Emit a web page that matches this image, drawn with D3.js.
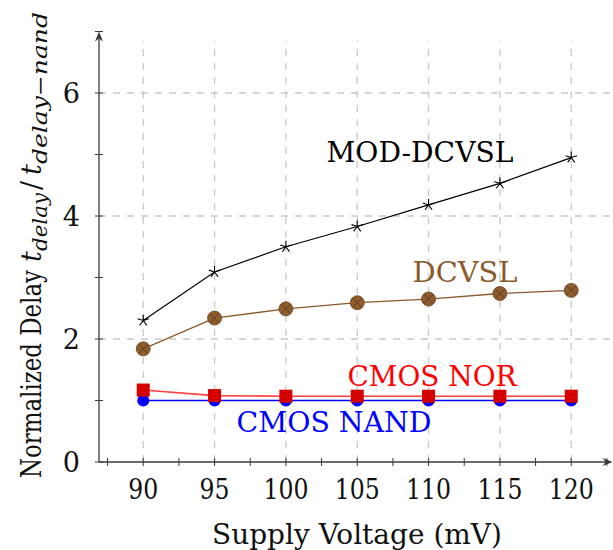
<!DOCTYPE html>
<html>
<head>
<meta charset="utf-8">
<script src="https://cdn.jsdelivr.net/npm/d3@7"></script>
</head>
<body style="margin:0;padding:0;background:#fff">
<svg id="chart" width="613" height="550"></svg>
<script>
// Supply voltages (mV) and normalized delay for each logic style
const voltages = [90, 95, 100, 105, 110, 115, 120];
const modDcvsl = [2.30, 3.09, 3.50, 3.83, 4.18, 4.53, 4.95];
const dcvsl    = [1.84, 2.34, 2.49, 2.59, 2.65, 2.74, 2.79];
const cmosNor  = [1.17, 1.08, 1.07, 1.07, 1.07, 1.07, 1.07];
const cmosNand = [1.00, 1.00, 1.00, 1.00, 1.00, 1.00, 1.00];

const xTicks = [90, 95, 100, 105, 110, 115, 120];
const xMinorTicks = [87.5, 92.5, 97.5, 102.5, 107.5, 112.5, 117.5, 122.5];
const yTicks = [0, 2, 4, 6];
const yMinorTicks = [1, 3, 5, 7];

const serif = "DejaVu Serif";
const svg = d3.select("#chart");

const x = d3.scaleLinear().domain([86.9, 122.9]).range([99, 612.6]);
const y = d3.scaleLinear().domain([0, 7]).range([462, 31.5]);

const axisColor = "#3a3a3a";
const fontSize = 27;

// dashed grid
const grid = svg.append("g");
grid.selectAll("line.vx").data(xTicks).join("line")
  .attr("x1", d => x(d)).attr("x2", d => x(d))
  .attr("y1", y(0)).attr("y2", y(6.85))
  .attr("stroke", "#c8c8c8").attr("stroke-width", 1.3)
  .attr("stroke-dasharray", "7,7");
grid.selectAll("line.hy").data(yTicks.filter(d => d > 0)).join("line")
  .attr("x1", x(86.9)).attr("x2", x(122.7))
  .attr("y1", d => y(d)).attr("y2", d => y(d))
  .attr("stroke", "#c8c8c8").attr("stroke-width", 1.3)
  .attr("stroke-dasharray", "7,7");

// axis lines
svg.append("line")
  .attr("x1", x(86.9)).attr("x2", x(122.9) - 4)
  .attr("y1", y(0)).attr("y2", y(0))
  .attr("stroke", axisColor).attr("stroke-width", 1.3);
svg.append("line")
  .attr("x1", x(86.9)).attr("x2", x(86.9))
  .attr("y1", y(0)).attr("y2", y(7) + 4)
  .attr("stroke", axisColor).attr("stroke-width", 1.3);

// arrow heads
const ax0 = x(122.9), ay0 = y(0);
svg.append("path")
  .attr("d", `M${ax0},${ay0} L${ax0 - 10},${ay0 - 4} L${ax0 - 7},${ay0} L${ax0 - 10},${ay0 + 4} Z`)
  .attr("fill", axisColor);
const bx0 = x(86.9), by0 = y(7);
svg.append("path")
  .attr("d", `M${bx0},${by0} L${bx0 - 4},${by0 + 10} L${bx0},${by0 + 7} L${bx0 + 4},${by0 + 10} Z`)
  .attr("fill", axisColor);

// ticks crossing the axes
svg.append("g").selectAll("line").data(xTicks.concat(xMinorTicks)).join("line")
  .attr("x1", d => x(d)).attr("x2", d => x(d))
  .attr("y1", y(0) - 4).attr("y2", y(0) + 4)
  .attr("stroke", axisColor).attr("stroke-width", 1);
svg.append("g").selectAll("line").data(yTicks.concat(yMinorTicks)).join("line")
  .attr("x1", x(86.9) - 4).attr("x2", x(86.9) + 4)
  .attr("y1", d => y(d)).attr("y2", d => y(d))
  .attr("stroke", axisColor).attr("stroke-width", 1);

// tick labels
svg.append("g").selectAll("text").data(xTicks).join("text")
  .attr("x", d => x(d) - String(d).length * 7.5).attr("y", 499)
  .attr("font-family", serif)
  .attr("font-size", fontSize).attr("fill", "#111")
  .attr("textLength", d => String(d).length * 15).attr("lengthAdjust", "spacingAndGlyphs")
  .text(d => d);
svg.append("g").selectAll("text").data(yTicks).join("text")
  .attr("x", 80).attr("y", d => y(d) + 10)
  .attr("text-anchor", "end").attr("font-family", serif)
  .attr("font-size", fontSize).attr("fill", "#111")
  .text(d => d);

// axis titles
svg.append("text")
  .attr("x", 212).attr("y", 544).attr("font-family", serif)
  .attr("font-size", fontSize).attr("fill", "#111")
  .attr("textLength", 290).attr("lengthAdjust", "spacingAndGlyphs")
  .text("Supply Voltage (mV)");

// rotated y title: plain words followed by t_delay / t_delay-nand
const yTitle = svg.append("g").attr("transform", "translate(41,478) rotate(-90)");
const titleParts = [
  { t: "Normalized Delay", at: 0, len: 208, size: fontSize, italic: false, dy: 0 },
  { t: "t", at: 216, len: null, size: fontSize, italic: true, dy: 0 },
  { t: "delay", at: 227, len: 58, size: 20, italic: true, dy: 6 },
  { t: "/", at: 288, len: null, size: fontSize, italic: false, dy: 0 },
  { t: "t", at: 303, len: null, size: fontSize, italic: true, dy: 0 },
  { t: "delay\u2212nand", at: 314, len: 152, size: 20, italic: true, dy: 6 }
];
yTitle.selectAll("text").data(titleParts).join("text")
  .attr("x", d => d.at).attr("y", d => d.dy)
  .attr("font-family", serif).attr("fill", "#111")
  .attr("font-size", d => d.size)
  .attr("font-style", d => d.italic ? "italic" : "normal")
  .attr("textLength", d => d.len)
  .attr("lengthAdjust", "spacingAndGlyphs")
  .text(d => d.t);

const line = vals => d3.line().x((d, i) => x(voltages[i])).y(d => y(d))(vals);

// CMOS NAND
svg.append("path").attr("d", line(cmosNand))
  .attr("fill", "none").attr("stroke", "#0000ff").attr("stroke-width", 1.4);
svg.append("g").selectAll("circle").data(cmosNand).join("circle")
  .attr("cx", (d, i) => x(voltages[i])).attr("cy", d => y(d)).attr("r", 6)
  .attr("fill", "#0000ff");

// CMOS NOR
svg.append("path").attr("d", line(cmosNor))
  .attr("fill", "none").attr("stroke", "#ff4040").attr("stroke-width", 1.6);
svg.append("g").selectAll("rect").data(cmosNor).join("rect")
  .attr("x", (d, i) => x(voltages[i]) - 6.5).attr("y", d => y(d) - 6.5)
  .attr("width", 13).attr("height", 13)
  .attr("fill", "#d40000");

// DCVSL
const brown = "#8a5a2c";
svg.append("path").attr("d", line(dcvsl))
  .attr("fill", "none").attr("stroke", brown).attr("stroke-width", 1.3);
const dm = svg.append("g").selectAll("g").data(dcvsl).join("g")
  .attr("transform", (d, i) => `translate(${x(voltages[i])},${y(d)})`);
dm.append("circle").attr("r", 7).attr("fill", "#8e5c2d").attr("stroke", "#6a4420").attr("stroke-width", 0.8);
dm.append("path").attr("d", "M-4.5,-4.5L4.5,4.5M-4.5,4.5L4.5,-4.5")
  .attr("stroke", "#5a3818").attr("stroke-width", 0.9);

// MOD-DCVSL
svg.append("path").attr("d", line(modDcvsl))
  .attr("fill", "none").attr("stroke", "#000").attr("stroke-width", 1.2);
const starPath = d3.range(5).map(k => {
  const a = -Math.PI / 2 + k * 2 * Math.PI / 5;
  return `M0,0L${(6 * Math.cos(a)).toFixed(2)},${(6 * Math.sin(a)).toFixed(2)}`;
}).join("");
svg.append("g").selectAll("path").data(modDcvsl).join("path")
  .attr("transform", (d, i) => `translate(${x(voltages[i])},${y(d)})`)
  .attr("d", starPath).attr("stroke", "#000").attr("stroke-width", 1.1).attr("fill", "none");

// series labels
const labels = [
  { text: "MOD-DCVSL", cx: 420, by: 162, color: "#000", w: 187 },
  { text: "DCVSL", cx: 465, by: 282, color: brown, w: 105 },
  { text: "CMOS NOR", cx: 432, by: 386, color: "#ff0000", w: 169 },
  { text: "CMOS NAND", cx: 334, by: 432, color: "#0000ff", w: 195 }
];
svg.append("g").selectAll("text").data(labels).join("text")
  .attr("x", d => d.cx - d.w / 2).attr("y", d => d.by)
  .attr("font-family", serif)
  .attr("font-size", fontSize).attr("fill", d => d.color)
  .attr("textLength", d => d.w).attr("lengthAdjust", "spacingAndGlyphs")
  .text(d => d.text);
</script>
</body>
</html>
